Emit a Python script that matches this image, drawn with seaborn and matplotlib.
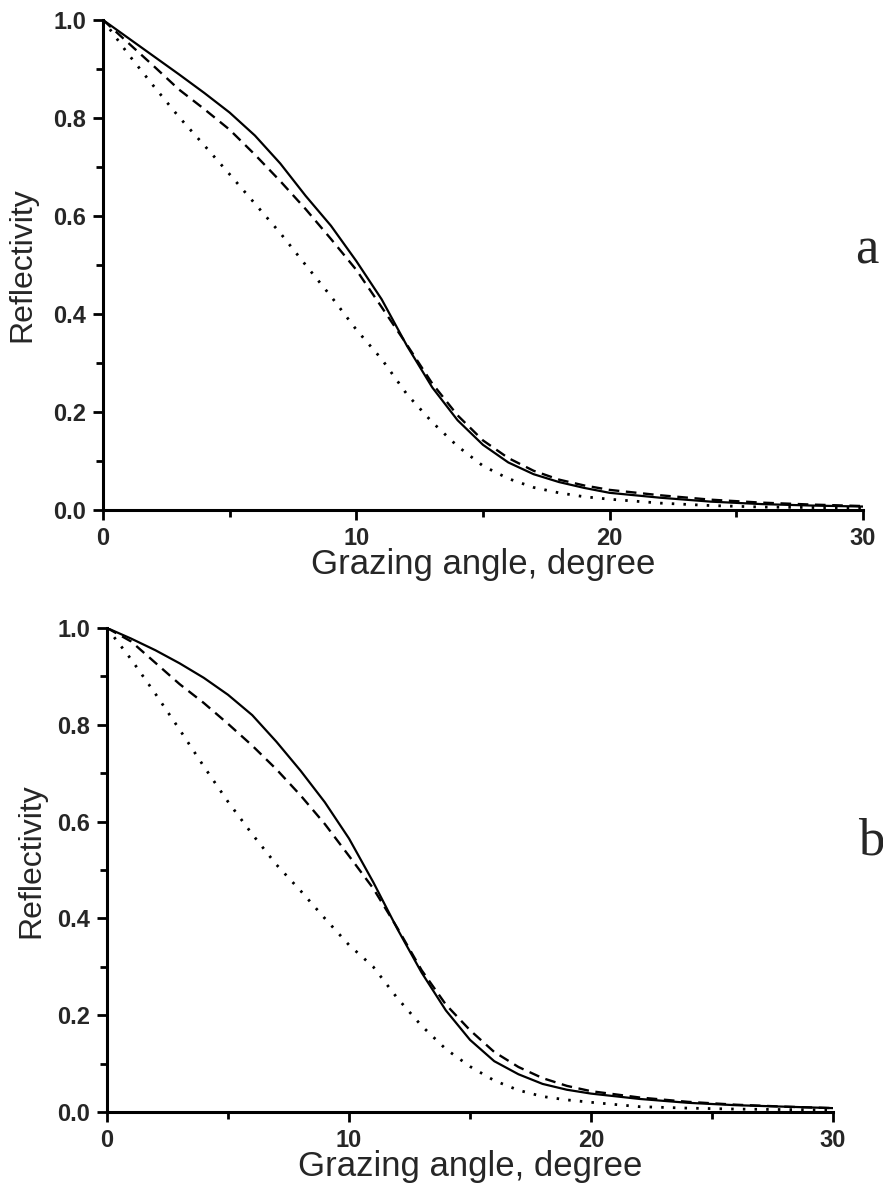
import matplotlib
matplotlib.use("Agg")
import matplotlib.pyplot as plt
import seaborn as sns
from matplotlib.ticker import MultipleLocator

# Grazing angle grid (degrees) and reflectivity.
angle = [0, 1, 2, 3, 4, 5, 6, 7, 8, 9, 10, 11, 12, 13, 14, 15,
         16, 17, 18, 19, 20, 22, 24, 26, 28, 30]

solid_a = [1.0, 0.963, 0.926, 0.889, 0.851, 0.811, 0.764, 0.707, 0.641, 0.580,
           0.508, 0.430, 0.335, 0.250, 0.183, 0.133, 0.097, 0.073, 0.057, 0.045,
           0.035, 0.025, 0.017, 0.012, 0.009, 0.007]
dashed_a = [1.0, 0.953, 0.906, 0.858, 0.818, 0.776, 0.725, 0.671, 0.614, 0.553,
            0.490, 0.414, 0.337, 0.258, 0.193, 0.142, 0.106, 0.080, 0.062, 0.050,
            0.041, 0.030, 0.021, 0.015, 0.011, 0.008]
dotted_a = [1.0, 0.930, 0.865, 0.802, 0.744, 0.685, 0.625, 0.565, 0.500, 0.436,
            0.368, 0.308, 0.236, 0.179, 0.130, 0.090, 0.064, 0.046, 0.035, 0.027,
            0.022, 0.014, 0.009, 0.006, 0.005, 0.004]

solid_b = [1.0, 0.978, 0.954, 0.927, 0.897, 0.862, 0.820, 0.765, 0.705, 0.640,
           0.565, 0.475, 0.378, 0.288, 0.210, 0.149, 0.105, 0.078, 0.058, 0.046,
           0.038, 0.027, 0.019, 0.014, 0.011, 0.008]
dashed_b = [1.0, 0.972, 0.928, 0.884, 0.845, 0.802, 0.757, 0.708, 0.654, 0.595,
            0.529, 0.462, 0.380, 0.293, 0.222, 0.169, 0.124, 0.093, 0.070, 0.054,
            0.043, 0.030, 0.021, 0.015, 0.011, 0.008]
dotted_b = [1.0, 0.935, 0.864, 0.790, 0.714, 0.641, 0.574, 0.511, 0.457, 0.400,
            0.345, 0.300, 0.235, 0.178, 0.130, 0.094, 0.065, 0.045, 0.032, 0.025,
            0.020, 0.011, 0.008, 0.006, 0.005, 0.004]

x_ticks = [0, 10, 20, 30]
y_ticks = [0.0, 0.2, 0.4, 0.6, 0.8, 1.0]

sns.set_theme(style="ticks")
plt.rcParams["font.family"] = ["Liberation Sans", "DejaVu Sans"]

fig = plt.figure(figsize=(8.83, 11.86), dpi=100)
ax_a = fig.add_axes([0.1166, 0.5700, 0.8607, 0.4132])
ax_b = fig.add_axes([0.1212, 0.0624, 0.8222, 0.4081])

panels = [
    (ax_a, solid_a, dashed_a, dotted_a, "a", (1.005, 0.53), (-0.086, 0.50)),
    (ax_b, solid_b, dashed_b, dotted_b, "b", (1.052, 0.558), (-0.083, 0.52)),
]

for ax, solid, dashed, dotted, tag, tag_pos, ylab_pos in panels:
    sns.lineplot(x=angle, y=dotted, ax=ax, color="black", lw=2.0,
                 linestyle=(0, (0.9, 3.3)))
    sns.lineplot(x=angle, y=dashed, ax=ax, color="black", lw=1.7,
                 linestyle=(0, (4.5, 2.8)))
    sns.lineplot(x=angle, y=solid, ax=ax, color="black", lw=1.6)

    ax.set_xlim(0, 30)
    ax.set_ylim(0, 1.0)
    ax.set_xticks(x_ticks)
    ax.set_xticklabels([str(t) for t in x_ticks])
    ax.set_yticks(y_ticks)
    ax.set_yticklabels([f"{t:.1f}" for t in y_ticks])
    ax.xaxis.set_minor_locator(MultipleLocator(5))
    ax.yaxis.set_minor_locator(MultipleLocator(0.1))

    for side in ["top", "right"]:
        ax.spines[side].set_visible(False)
    for side in ["left", "bottom"]:
        ax.spines[side].set_linewidth(2.2)
        ax.spines[side].set_color("black")

    ax.tick_params(which="major", direction="out", length=7, width=2.0,
                   color="black", labelsize=17, pad=5)
    ax.tick_params(which="minor", direction="out", length=5, width=2.0,
                   color="black")
    for lbl in ax.get_xticklabels() + ax.get_yticklabels():
        lbl.set_fontweight("bold")

    ax.set_xlabel("Grazing angle, degree", fontsize=25)
    ax.set_ylabel("Reflectivity", fontsize=23)
    ax.xaxis.set_label_coords(0.5, -0.078)
    ax.yaxis.set_label_coords(*ylab_pos)

    ax.text(tag_pos[0], tag_pos[1], tag, transform=ax.transAxes,
            fontsize=38, family="Liberation Serif", ha="center", va="center",
            clip_on=False)

fig.savefig("out.png", dpi=100, facecolor="white")
